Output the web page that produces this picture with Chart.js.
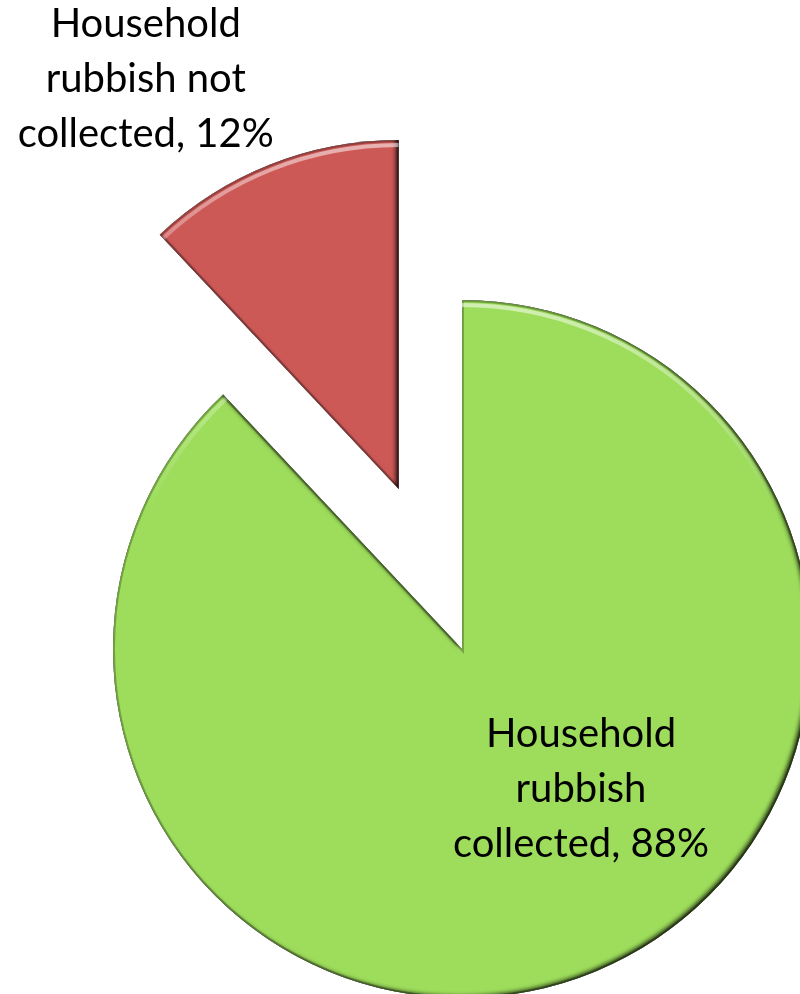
<!DOCTYPE html>
<html>
<head>
<meta charset="utf-8">
<script src="https://cdn.jsdelivr.net/npm/chart.js@4/dist/chart.umd.min.js"></script>
<style>
  html, body { margin: 0; padding: 0; width: 800px; height: 994px; overflow: hidden; background: #fff; }
  #wrap { position: absolute; left: 0; top: 0; width: 924px; height: 1298px; }
</style>
</head>
<body>
<div id="wrap"><canvas id="chart" width="924" height="1298"></canvas></div>
<script>
// Category names, split the way they are printed on the chart
const categoryLines = [
  ['Household', 'rubbish', 'collected'],
  ['Household', 'rubbish not', 'collected']
];
const categories = categoryLines.map(l => l.join(' '));
// Share of households, percent
const shares = [88, 12];
const fills = ['#9DDD5B', '#CD5957'];

// Presentation settings
const style = {
  radius: 349,
  explode: [0, 172],                       // outward shift of each slice, px
  labelAt: [{ ang: 52.1, dist: 0.555 },    // label anchor: polar offset from slice tip
            { ang: -122.5, dist: 1.349 }],
  font: '40px Lato',
  lineGap: 55
};

function labelText(i) {
  const l = categoryLines[i].slice();
  l[l.length - 1] = l[l.length - 1] + ', ' + shares[i] + '%';
  return l;
}

function slicePath(ctx, el) {
  ctx.beginPath();
  ctx.moveTo(el.x, el.y);
  ctx.arc(el.x, el.y, el.outerRadius, el.startAngle, el.endAngle);
  ctx.closePath();
}

// Soft bevel: shaded edges, light rim along the upper arc
function bevel(ctx, el) {
  const { x, y, outerRadius: r, startAngle: a0, endAngle: a1 } = el;
  ctx.save();
  slicePath(ctx, el);
  ctx.clip();

  ctx.beginPath();
  ctx.rect(x - r - 60, y - r - 60, 2 * r + 120, 2 * r + 120);
  ctx.moveTo(x, y);
  ctx.arc(x, y, r, a0, a1);
  ctx.closePath();
  ctx.shadowColor = 'rgba(0,0,0,0.75)';
  ctx.shadowBlur = 4;
  ctx.shadowOffsetX = -3;
  ctx.shadowOffsetY = -2;
  ctx.fillStyle = '#000';
  ctx.fill('evenodd');
  ctx.shadowColor = 'transparent';

  slicePath(ctx, el);
  ctx.lineWidth = 4;
  ctx.strokeStyle = 'rgba(0,0,0,0.25)';
  ctx.stroke();

  const g = ctx.createLinearGradient(0, y - r, 0, y);
  g.addColorStop(0, 'rgba(255,255,255,0.55)');
  g.addColorStop(0.6, 'rgba(255,255,255,0)');
  ctx.beginPath();
  ctx.arc(x, y, r - 5, a0, a1);
  ctx.lineWidth = 4;
  ctx.strokeStyle = g;
  ctx.stroke();
  ctx.restore();
}

const explodedSlices = {
  id: 'explodedSlices',
  beforeDatasetDraw(chart, args) {
    const ctx = chart.ctx;
    args.meta.data.forEach((el, i) => {
      const mid = (el.startAngle + el.endAngle) / 2;
      const d = style.explode[i];
      ctx.save();
      ctx.translate(Math.cos(mid) * d, Math.sin(mid) * d);
      el.draw(ctx);
      bevel(ctx, el);
      ctx.restore();
    });
    return false;
  }
};

const sliceLabels = {
  id: 'sliceLabels',
  afterDatasetsDraw(chart) {
    const ctx = chart.ctx;
    const meta = chart.getDatasetMeta(0);
    ctx.save();
    ctx.font = style.font;
    ctx.fillStyle = '#000';
    ctx.textAlign = 'center';
    ctx.textBaseline = 'alphabetic';
    meta.data.forEach((el, i) => {
      const mid = (el.startAngle + el.endAngle) / 2;
      const cx = el.x + Math.cos(mid) * style.explode[i];
      const cy = el.y + Math.sin(mid) * style.explode[i];
      const p = style.labelAt[i];
      const a = p.ang * Math.PI / 180;
      const lx = cx + Math.cos(a) * p.dist * el.outerRadius;
      const ly = cy + Math.sin(a) * p.dist * el.outerRadius;
      labelText(i).forEach((t, k) => ctx.fillText(t, lx, ly + (k - 1) * style.lineGap));
    });
    ctx.restore();
  }
};

function draw() {
  new Chart(document.getElementById('chart'), {
    type: 'pie',
    data: {
      labels: categories,
      datasets: [{
        data: shares,
        backgroundColor: fills,
        borderWidth: 0
      }]
    },
    options: {
      responsive: false,
      devicePixelRatio: 1,
      animation: false,
      events: [],
      radius: style.radius,
      layout: { padding: 0 },
      plugins: { legend: { display: false }, tooltip: { enabled: false } }
    },
    plugins: [explodedSlices, sliceLabels]
  });
}

if (document.fonts && document.fonts.load) {
  document.fonts.load(style.font).then(draw, draw);
} else {
  draw();
}
</script>
</body>
</html>
